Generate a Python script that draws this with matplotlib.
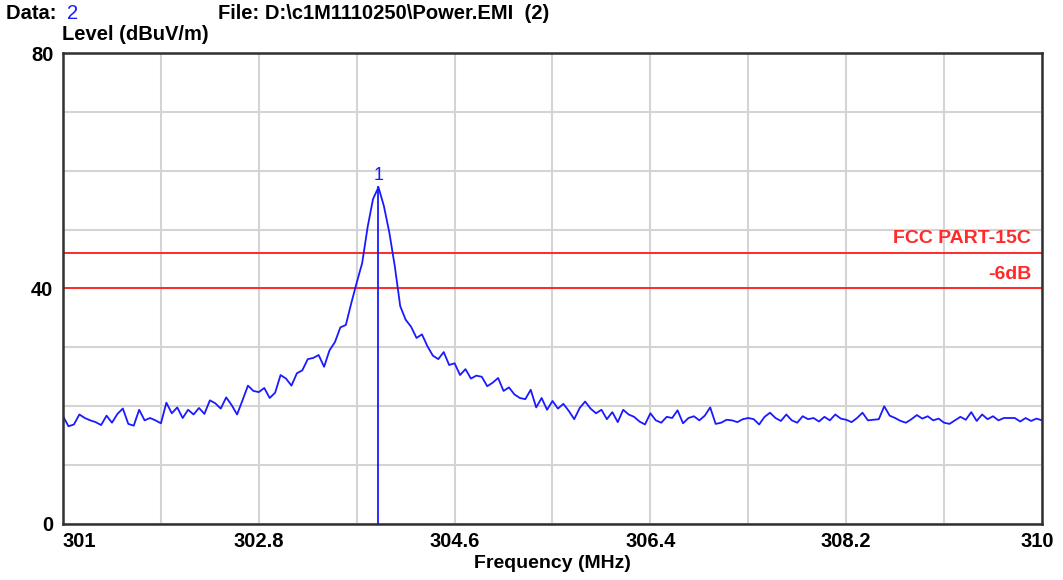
import numpy as np
import matplotlib
matplotlib.use("Agg")
import matplotlib.pyplot as plt
import matplotlib.transforms as mtransforms

plt.rcParams['font.family'] = ['Liberation Sans', 'DejaVu Sans']

# sweep 301..310 MHz, level (dBuV/m)
level = [
    18.3, 16.6, 16.9, 18.6, 18.0, 17.6, 17.3, 16.8, 18.4, 17.2,
    18.7, 19.6, 17.0, 16.7, 19.4, 17.6, 18.0, 17.6, 17.1, 20.6,
    18.8, 19.8, 18.0, 19.4, 18.6, 19.7, 18.7, 21.0, 20.5, 19.6,
    21.5, 20.2, 18.6, 21.0, 23.5, 22.6, 22.4, 23.1, 21.4, 22.3,
    25.3, 24.7, 23.5, 25.6, 26.1, 28.0, 28.2, 28.7, 26.7, 29.5,
    30.9, 33.4, 33.8, 37.5, 41.0, 44.3, 50.4, 55.2, 57.2, 54.0,
    49.5, 43.8, 37.0, 34.7, 33.5, 31.6, 32.2, 30.2, 28.6, 28.0,
    29.2, 27.0, 27.3, 25.3, 26.3, 24.7, 25.2, 25.0, 23.4, 24.0,
    24.8, 22.6, 23.2, 22.0, 21.4, 21.2, 22.8, 19.8, 21.4, 19.4,
    20.9, 19.6, 20.4, 19.2, 17.8, 19.7, 20.8, 19.6, 18.8, 19.4,
    17.8, 19.0, 17.3, 19.4, 18.6, 18.2, 17.4, 16.9, 18.8, 17.6,
    17.2, 18.2, 18.0, 19.3, 17.1, 18.0, 18.3, 17.6, 18.4, 19.8,
    17.0, 17.2, 17.7, 17.6, 17.3, 17.8, 18.0, 17.8, 16.9, 18.2,
    18.9, 18.0, 17.5, 18.6, 17.6, 17.2, 18.3, 17.8, 18.0, 17.4,
    18.2, 17.6, 18.6, 17.9, 17.7, 17.3, 18.0, 18.9, 17.6, 17.7,
    17.8, 20.0, 18.4, 18.0, 17.5, 17.2, 17.8, 18.5, 17.9, 18.3,
    17.6, 17.9, 17.2, 17.0, 17.6, 18.2, 17.7, 19.0, 17.5, 18.6,
    17.8, 18.3, 17.6, 18.0, 18.0, 18.0, 17.4, 18.0, 17.5, 17.9,
    17.6,
]
freq = np.linspace(301, 310, len(level))

limit_names = ["FCC PART-15C", "-6dB"]
limit_levels = [46, 40]

marker_freq = 303.9
marker_level = 57.2

x_ticks = [301, 302.8, 304.6, 306.4, 308.2, 310]
x_labels = ["301", "302.8", "304.6", "306.4", "308.2", "310"]
y_ticks = [0, 40, 80]

fig = plt.figure(figsize=(10.63, 5.80), dpi=100)
ax = fig.add_axes([0.0593, 0.0966, 0.9209, 0.812])

ax.set_xlim(301, 310)
ax.set_ylim(0, 80)
ax.set_xticks(np.arange(301, 310.01, 0.9), minor=True)
ax.set_yticks(np.arange(0, 81, 10), minor=True)
ax.set_xticks(x_ticks)
ax.set_xticklabels(x_labels)
ax.set_yticks(y_ticks)
ax.grid(True, which='both', color='#d4d4d4', linewidth=1.5)
ax.set_axisbelow(True)
ax.tick_params(which='both', length=0, labelsize=14.5)
ax.tick_params(axis='x', pad=6)
ax.tick_params(axis='y', pad=7)
for lbl in ax.get_xticklabels() + ax.get_yticklabels():
    lbl.set_fontweight('bold')

# end labels sit inside the frame like the analyzer printout
xl = ax.get_xticklabels()
xl[0].set_horizontalalignment('left')
xl[0].set_transform(xl[0].get_transform() + mtransforms.ScaledTranslation(-0.01, 0, fig.dpi_scale_trans))
xl[-1].set_transform(xl[-1].get_transform() + mtransforms.ScaledTranslation(-0.05, 0, fig.dpi_scale_trans))

for s in ax.spines.values():
    s.set_color('#303030')
    s.set_linewidth(1.8)

for name, lv in zip(limit_names, limit_levels):
    ax.axhline(lv, color='#ff2a2a', linewidth=1.4)
    ax.text(309.9, lv + 1.0, name, color='#ff2a2a', fontsize=14,
            fontweight='bold', ha='right', va='bottom')

ax.plot(freq, level, color='#1a1aff', linewidth=1.3)
ax.plot([marker_freq, marker_freq], [0, marker_level], color='#1a1aff', linewidth=1.3)
ax.text(marker_freq, marker_level + 0.6, "1", color='#1a1aff', fontsize=13,
        ha='center', va='bottom')

ax.set_xlabel("Frequency (MHz)", fontsize=14, fontweight='bold', labelpad=3)

fig.text(0.0056, 0.977, "Data: ", fontsize=14.5, fontweight='bold', va='center')
fig.text(0.063, 0.977, "2", fontsize=14.5, color='#1a1aff', va='center')
fig.text(0.205, 0.977, "File: D:\\c1M1110250\\Power.EMI  (2)", fontsize=14.5,
         fontweight='bold', va='center')
fig.text(0.0583, 0.941, "Level (dBuV/m)", fontsize=14.5, fontweight='bold', va='center')

fig.savefig("out.png", dpi=100)
